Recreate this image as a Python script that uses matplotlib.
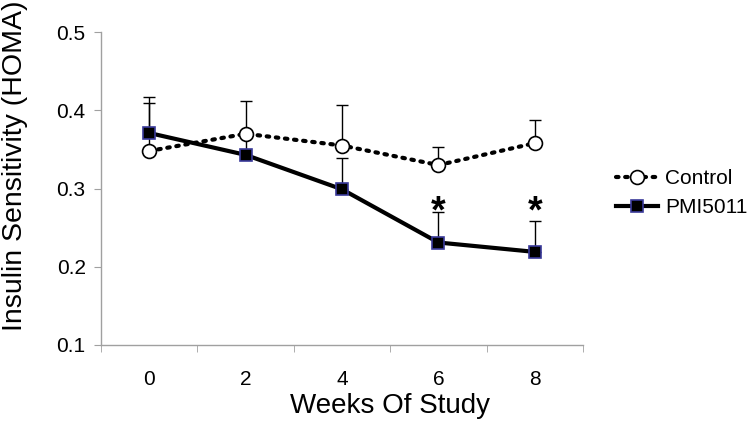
import matplotlib
matplotlib.use("Agg")
import matplotlib.pyplot as plt
import numpy as np

weeks = ["0", "2", "4", "6", "8"]
control = [0.348, 0.370, 0.355, 0.330, 0.358]
control_err = [0.069, 0.042, 0.052, 0.023, 0.030]
pmi = [0.371, 0.343, 0.299, 0.231, 0.219]
pmi_err = [0.038, 0.025, 0.040, 0.039, 0.039]
sig = [False, False, False, True, True]

plt.rcParams['font.family'] = ['Liberation Sans', 'DejaVu Sans']
fig = plt.figure(figsize=(7.5, 4.22), dpi=100)
ax = fig.add_axes([0.1347, 0.1825, 0.6426, 0.7415])
x = np.arange(len(weeks))

ax.errorbar(x, control, yerr=[np.zeros(len(x)), control_err], fmt='none',
            ecolor='black', elinewidth=1, capsize=4, capthick=1, zorder=2)
ax.errorbar(x, pmi, yerr=[np.zeros(len(x)), pmi_err], fmt='none',
            ecolor='black', elinewidth=1, capsize=4, capthick=1, zorder=2)
ax.plot(x, control, linestyle=(0, (0.6, 1.6)), color='black', linewidth=3,
        dash_capstyle='round', marker='o', markersize=10, markerfacecolor='white',
        markeredgecolor='black', markeredgewidth=1.2, label='Control', zorder=3)
ax.plot(x, pmi, linestyle='-', color='black', linewidth=3,
        marker='s', markersize=9, markerfacecolor='black',
        markeredgecolor='#3a3a9a', markeredgewidth=1.2, label='PMI5011', zorder=4)

star_y = max(p + e for p, e, s in zip(pmi, pmi_err, sig) if s) + 0.0
for xi, s in zip(x, sig):
    if s:
        ax.text(xi, star_y, '*', ha='center', va='center', fontsize=27,
                fontweight='bold')

ax.set_xlim(-0.5, len(x) - 0.5)
ax.set_ylim(0.1, 0.5)
ax.set_xticks(x)
ax.set_xticklabels(weeks)
ax.set_xticks(np.arange(-0.5, len(x), 1), minor=True)
ax.tick_params(axis='x', which='major', length=0, pad=18, labelsize=15)
ax.tick_params(axis='x', which='minor', length=5, color='#a0a0a0', direction='out')
ax.set_yticks([0.1, 0.2, 0.3, 0.4, 0.5])
ax.set_yticklabels(['0.1', '0.2', '0.3', '0.4', '0.5'])
ax.tick_params(axis='y', length=5, color='#a0a0a0', direction='out', labelsize=15, pad=6)
for side in ['top', 'right']:
    ax.spines[side].set_visible(False)
for side in ['left', 'bottom']:
    ax.spines[side].set_color('#a0a0a0')
    ax.spines[side].set_linewidth(1)

ax.set_xlabel('Weeks Of Study', fontsize=20)
ax.xaxis.set_label_coords(0.60, -0.155)
ax.set_ylabel('Insulin Sensitivity (HOMA)', fontsize=20.5)
ax.yaxis.set_label_coords(-0.151, 0.572)

leg = ax.legend(loc='center left', bbox_to_anchor=(1.051, 0.485), frameon=False,
                fontsize=15, handlelength=2.0, handletextpad=0.35, labelspacing=0.5,
                borderaxespad=0)

fig.savefig('out.png', dpi=100)
